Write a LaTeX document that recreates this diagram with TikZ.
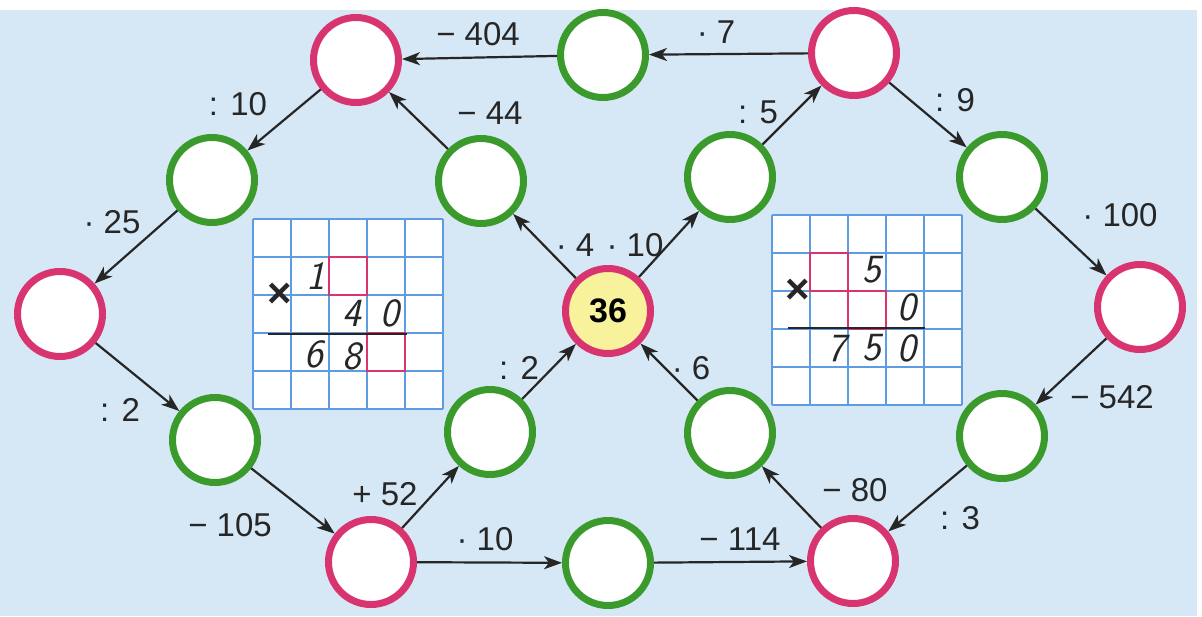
\documentclass[tikz,border=0pt]{standalone}
\usepackage{fontspec}
\setmainfont{Liberation Sans}
\usetikzlibrary{arrows.meta}
\definecolor{bgblue}{HTML}{D6E8F6}
\definecolor{ringpink}{HTML}{D8346F}
\definecolor{ringgreen}{HTML}{3A9A2C}
\definecolor{startyellow}{HTML}{F8F29C}
\definecolor{gridblue}{HTML}{5E9BE0}
\tikzset{
  x=1pt, y=-1pt,
  pinkc/.style={circle, draw=ringpink, line width=7pt, fill=white, minimum size=85pt, inner sep=0pt},
  greenc/.style={circle, draw=ringgreen, line width=7pt, fill=white, minimum size=85pt, inner sep=0pt},
  arr/.style={-{Stealth[length=18pt,width=13pt,inset=5pt]}, line width=2.2pt, black!85},
  lbl/.style={font=\fontsize{33}{33}\selectfont, inner sep=0pt, text=black!85},
  hand/.style={font=\sffamily\itshape\fontsize{40}{40}\selectfont, inner sep=0pt, text=black!85},
  timesmark/.style={font=\bfseries\fontsize{42}{42}\selectfont, inner sep=0pt, text=black!85},
  gridline/.style={draw=gridblue, line width=1.3pt},
  pinkbox/.style={draw=ringpink, line width=2pt},
}
\begin{document}
\begin{tikzpicture}
\useasboundingbox (0,0) rectangle (1202,616);
\fill[white] (0,0) rectangle (1202,616);
\fill[bgblue] (0,10) rectangle (1197,616);

% left grid
\fill[white] (253,219) rectangle (443,409);
\foreach \i in {0,...,5} {
  \draw[gridline] (253+38*\i,219) -- (253+38*\i,409);
  \draw[gridline] (253,219+38*\i) -- (443,219+38*\i);
}
\draw[pinkbox] (329,257) rectangle (367,295);
\draw[pinkbox] (367,333) rectangle (405,371);
\node[timesmark] (lx) at (280,295) {×};
\node[hand] (l1) at (316,276) {1};
\node[hand] (l4) at (352,313) {4};
\node[hand] (l0) at (390,313) {0};
\draw[line width=2pt, black!85] (268,334) -- (407,334);
\node[hand] (l6) at (314,354) {6};
\node[hand] (l8) at (352,356) {8};

% right grid
\fill[white] (772,215) rectangle (962,405);
\foreach \i in {0,...,5} {
  \draw[gridline] (772+38*\i,215) -- (772+38*\i,405);
  \draw[gridline] (772,215+38*\i) -- (962,215+38*\i);
}
\draw[pinkbox] (810,253) rectangle (848,291);
\draw[pinkbox] (848,291) rectangle (886,329);
\node[timesmark] (rx) at (798,291) {×};
\node[hand] (r5) at (872,270) {5};
\node[hand] (r0) at (907,307) {0};
\draw[line width=2pt, black!85] (788,328) -- (925,328);
\node[hand] (r7) at (837,349) {7};
\node[hand] (r5b) at (872,348) {5};
\node[hand] (r0b) at (907,348) {0};

% circles
\node[pinkc] (tl) at (356,60) {};
\node[greenc] (tg) at (603,55) {};
\node[pinkc] (tr) at (854,53) {};
\node[greenc] (lg1) at (212,180) {};
\node[greenc] (ig1) at (481,181) {};
\node[greenc] (ig2) at (730,177) {};
\node[greenc] (rg1) at (1002,177) {};
\node[pinkc] (lp) at (60,314) {};
\node[pinkc, fill=startyellow, font=\bfseries\fontsize{34}{34}\selectfont] (c) at (608,311) {36};
\node[pinkc] (rp) at (1140,307) {};
\node[greenc] (lg2) at (215,440) {};
\node[greenc] (ig3) at (490,432) {};
\node[greenc] (ig4) at (730,433) {};
\node[greenc] (rg2) at (1002,436) {};
\node[pinkc] (bl) at (371,562) {};
\node[greenc] (bg) at (608,563) {};
\node[pinkc] (br) at (853,561) {};

% arrows
\draw[arr] (tg) -- (tl);
\draw[arr] (tr) -- (tg);
\draw[arr] (tl) -- (lg1);
\draw[arr] (lg1) -- (lp);
\draw[arr] (lp) -- (lg2);
\draw[arr] (lg2) -- (bl);
\draw[arr] (bl) -- (ig3);
\draw[arr] (ig3) -- (c);
\draw[arr] (bl) -- (bg);
\draw[arr] (bg) -- (br);
\draw[arr] (br) -- (ig4);
\draw[arr] (ig4) -- (c);
\draw[arr] (rg2) -- (br);
\draw[arr] (rp) -- (rg2);
\draw[arr] (rg1) -- (rp);
\draw[arr] (tr) -- (rg1);
\draw[arr] (ig2) -- (tr);
\draw[arr] (c) -- (ig2);
\draw[arr] (c) -- (ig1);
\draw[arr] (ig1) -- (tl);

% labels
\node[lbl] (t404) at (478,34) {− 404};
\node[lbl] (t7) at (716,32) {· 7};
\node[lbl] (t10a) at (238,104) {: 10};
\node[lbl] (t44) at (490,113) {− 44};
\node[lbl] (t5) at (758,112) {: 5};
\node[lbl] (t9) at (955,100) {: 9};
\node[lbl] (t25) at (112,222) {· 25};
\node[lbl] (t100) at (1120,215) {· 100};
\node[lbl] (t4) at (575,245) {· 4};
\node[lbl] (t10b) at (635,245) {· 10};
\node[lbl] (t2a) at (120,410) {: 2};
\node[lbl] (t2b) at (519,368) {: 2};
\node[lbl] (t6) at (691,368) {· 6};
\node[lbl] (t542) at (1112,397) {− 542};
\node[lbl] (t105) at (230,525) {− 105};
\node[lbl] (t52) at (385,494) {+ 52};
\node[lbl] (t80) at (855,490) {− 80};
\node[lbl] (t3) at (960,518) {: 3};
\node[lbl] (t10c) at (485,539) {· 10};
\node[lbl] (t114) at (740,539) {− 114};
\end{tikzpicture}
\end{document}
